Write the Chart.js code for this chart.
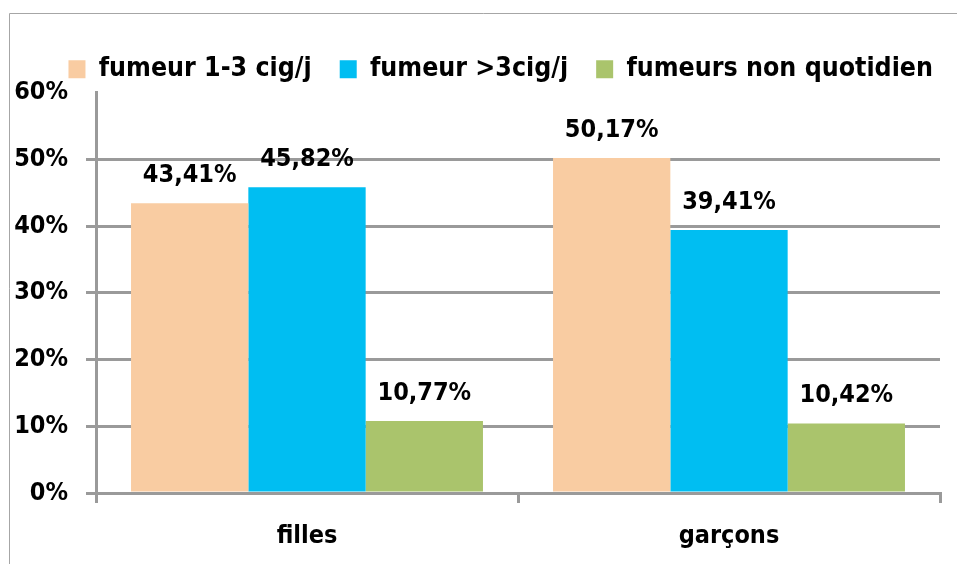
<!DOCTYPE html>
<html>
<head>
<meta charset="utf-8">
<script src="https://cdn.jsdelivr.net/npm/chart.js@4"></script>
<style>
  html, body { margin: 0; padding: 0; background: #fff; overflow: hidden; }
  canvas { display: block; }
</style>
</head>
<body>
<canvas id="chart" width="957" height="564"></canvas>
<script>
const categories = ['filles', 'garçons']
const seriesNames = ['fumeur 1-3 cig/j', 'fumeur >3cig/j', 'fumeurs non quotidien']
const smoker13 = [43.41, 50.17]
const smokerMore3 = [45.82, 39.41]
const nonDaily = [10.77, 10.42]
const colors = ['#F9CCA2', '#00BEF2', '#AAC46C']

const FONT = '"DejaVu Sans Condensed", "DejaVu Sans", sans-serif'
const GRID = '#9a9a9a'

const extras = {
    id: 'extras',
    beforeLayout(chart) {
        // legend keeps its item spacing but takes less vertical room
        const lg = chart.legend
        if (lg && !lg._short) {
            lg.afterFit = function () { this.height -= 17 }
            lg._short = true
        }
    },
    afterLayout(chart) {
        // nudge the legend row to the right like the original
        if (chart.legend) {
            chart.legend.left += 21
            chart.legend.right += 21
        }
    },
    beforeDraw(chart) {
        // outer frame: only its top and left edges are inside the picture
        const ctx = chart.ctx
        ctx.save()
        ctx.strokeStyle = '#a6a6a6'
        ctx.lineWidth = 1
        ctx.beginPath()
        ctx.moveTo(9.5, chart.height)
        ctx.lineTo(9.5, 13.5)
        ctx.lineTo(chart.width, 13.5)
        ctx.stroke()
        ctx.restore()
    },
    // values above the bars, written with a French decimal comma
    afterDatasetsDraw(chart) {
        const ctx = chart.ctx
        ctx.save()
        ctx.font = 'bold 25px ' + FONT
        ctx.fillStyle = '#000'
        ctx.textAlign = 'center'
        ctx.textBaseline = 'alphabetic'
        chart.data.datasets.forEach((ds, i) => {
            chart.getDatasetMeta(i).data.forEach((bar, j) => {
                const txt = ds.data[j].toFixed(2).replace('.', ',') + '%'
                ctx.fillText(txt, bar.x, bar.y - 21)
            })
        })
        ctx.restore()
    }
}

const ctx = document.getElementById('chart').getContext('2d')
new Chart(ctx, {
    type: 'bar',
    data: {
        labels: categories,
        datasets: [smoker13, smokerMore3, nonDaily].map((d, i) => ({
            label: seriesNames[i],
            data: d,
            backgroundColor: colors[i],
            categoryPercentage: 0.834,
            barPercentage: 1.0
        }))
    },
    options: {
        responsive: false,
        animation: false,
        layout: { padding: { left: 8, right: 17, top: 28, bottom: -5 } },
        plugins: {
            tooltip: { enabled: false },
            legend: {
                position: 'top',
                align: 'end',
                labels: {
                    boxWidth: 17,
                    boxHeight: 18,
                    padding: 28,
                    color: '#000',
                    font: { family: FONT, size: 26.5, weight: 'bold' }
                }
            }
        },
        scales: {
            x: {
                grid: {
                    offset: true,
                    drawOnChartArea: false,
                    drawTicks: true,
                    tickLength: 10,
                    color: GRID,
                    lineWidth: 3
                },
                border: { color: GRID, width: 3 },
                ticks: {
                    color: '#000',
                    padding: 18,
                    font: { family: FONT, size: 25, weight: 'bold' }
                }
            },
            y: {
                min: 0,
                max: 60,
                afterFit(scale) { scale.width = 88 },
                grid: {
                    tickLength: 10,
                    color: c => (c.tick && c.tick.value === 60) ? 'rgba(0,0,0,0)' : GRID,
                    lineWidth: 3
                },
                border: { color: GRID, width: 3 },
                ticks: {
                    stepSize: 10,
                    color: '#000',
                    padding: 18,
                    font: { family: FONT, size: 25, weight: 'bold' },
                    callback: v => v + '%'
                }
            }
        }
    },
    plugins: [extras]
})
</script>
</body>
</html>
